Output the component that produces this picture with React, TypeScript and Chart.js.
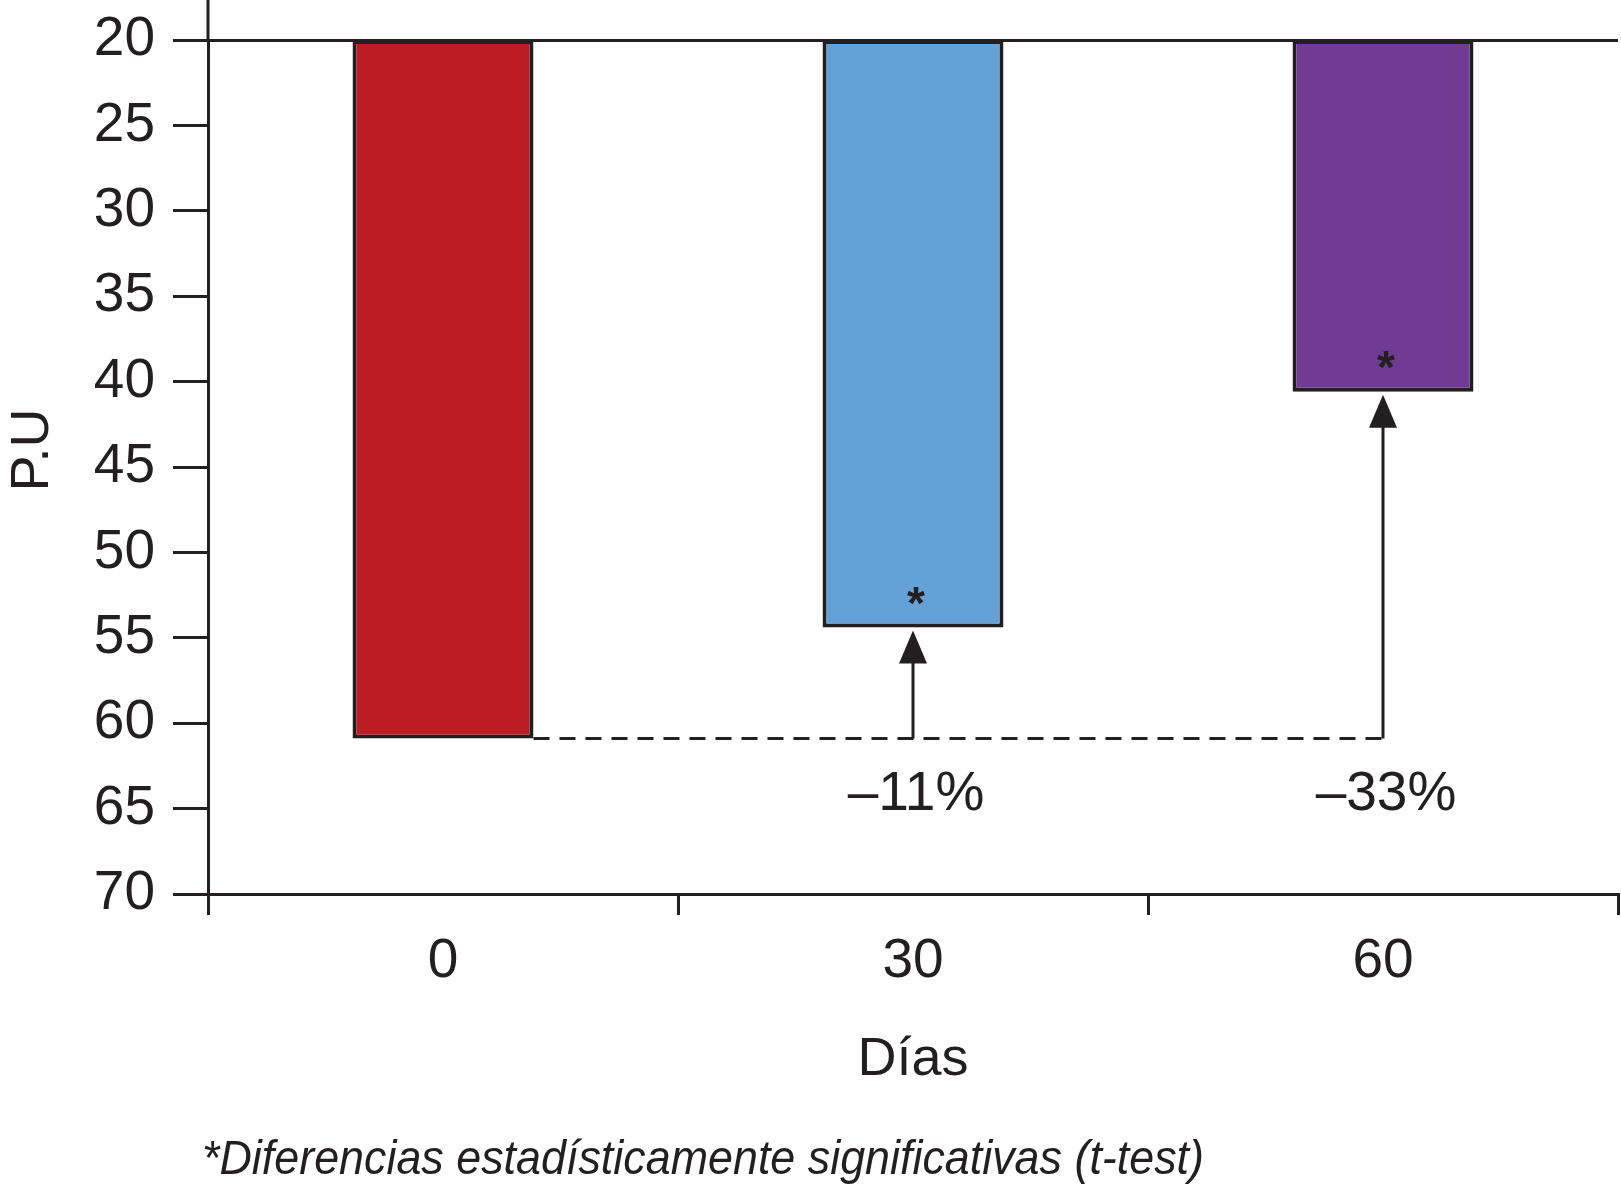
import React, { useEffect, useRef } from "react";
import { Chart, registerables } from "chart.js";

Chart.register(...registerables);

const categories = ["0", "30", "60"];
const puValues = [60.9, 54.4, 40.6];
const baseline = 20;
const barColors = ["#bc1c24", "#64a1d6", "#6f3b93"];
const changeLabels = ["", "–11%", "–33%"];
const significant = [false, true, true];
const yTicks = { min: 20, max: 70, step: 5 };
const yTitle = "P.U";
const xTitle = "Días";
const footnote = "*Diferencias estadísticamente significativas (t-test)";

const INK = "#231f20";
const FONT = "'Liberation Sans', Arial, sans-serif";

const annotationPlugin = {
  id: "annotations",
  afterDraw(chart: any) {
    const ctx = chart.ctx as CanvasRenderingContext2D;
    const area = chart.chartArea;
    const meta = chart.getDatasetMeta(0);
    const bars = meta.data as any[];
    ctx.save();
    ctx.strokeStyle = INK;
    ctx.fillStyle = INK;

    // y axis extension above top
    ctx.lineWidth = 3;
    ctx.beginPath();
    ctx.moveTo(area.left, 0);
    ctx.lineTo(area.left, area.top);
    ctx.stroke();

    const ref = bars[0];
    const refY = ref.y;
    const lastArrowX = bars[bars.length - 1].x;

    // dashed reference line
    ctx.setLineDash([16, 10]);
    ctx.beginPath();
    ctx.moveTo(ref.x + ref.width / 2, refY);
    ctx.lineTo(lastArrowX, refY);
    ctx.stroke();
    ctx.setLineDash([]);

    bars.forEach((bar: any, i: number) => {
      if (!significant[i]) return;
      const x = bar.x;
      const tip = bar.y + 3;
      // stem
      ctx.lineWidth = 3;
      ctx.beginPath();
      ctx.moveTo(x, refY);
      ctx.lineTo(x, tip + 30);
      ctx.stroke();
      // arrow head
      ctx.beginPath();
      ctx.moveTo(x, tip);
      ctx.lineTo(x - 14, tip + 33);
      ctx.lineTo(x + 14, tip + 33);
      ctx.closePath();
      ctx.fill();
      // asterisk
      ctx.font = `bold 46px ${FONT}`;
      ctx.textAlign = "center";
      ctx.textBaseline = "alphabetic";
      ctx.fillText("*", x + 3, bar.y - 9);
      // change label
      ctx.font = `55px ${FONT}`;
      ctx.textBaseline = "middle";
      ctx.fillText(changeLabels[i], x + 3, refY + 56);
    });

    // x title
    ctx.font = `54px ${FONT}`;
    ctx.textAlign = "center";
    ctx.textBaseline = "middle";
    ctx.fillText(xTitle, (area.left + area.right) / 2, 1060);

    // y title
    ctx.save();
    ctx.translate(33, 450);
    ctx.rotate(-Math.PI / 2);
    ctx.fillText(yTitle, 0, 0);
    ctx.restore();

    // footnote
    ctx.font = `italic 49px ${FONT}`;
    ctx.textAlign = "left";
    ctx.textBaseline = "alphabetic";
    const w = ctx.measureText(footnote).width;
    const sx = Math.min(1, 1002 / w);
    ctx.save();
    ctx.translate(202, 1174);
    ctx.scale(sx, 1);
    ctx.fillText(footnote, 0, 0);
    ctx.restore();

    ctx.restore();
  },
};

export default function App() {
  const canvasRef = useRef<HTMLCanvasElement>(null);

  useEffect(() => {
    document.body.style.margin = "0";
    const canvas = canvasRef.current;
    if (!canvas) return;
    const chart = new Chart(canvas, {
      type: "bar",
      data: {
        labels: categories,
        datasets: [
          {
            data: puValues.map((v) => [baseline, v]) as any,
            backgroundColor: barColors,
            borderColor: INK,
            borderWidth: 4,
            borderSkipped: false,
            barPercentage: 0.385,
            categoryPercentage: 1,
          },
        ],
      },
      options: {
        animation: false,
        responsive: false,
        devicePixelRatio: 1,
        layout: { padding: { top: 40, right: 3, left: 0, bottom: 0 } },
        plugins: {
          legend: { display: false },
          tooltip: { enabled: false },
        },
        scales: {
          x: {
            type: "category",
            offset: true,
            grid: {
              offset: true,
              drawOnChartArea: false,
              drawTicks: true,
              tickLength: 21,
              color: INK,
              lineWidth: 3,
            },
            border: { display: true, color: INK, width: 3 },
            ticks: {
              color: INK,
              font: { family: FONT, size: 55 },
              padding: 14,
            },
            afterFit: (s: any) => {
              s.height = 294;
              s.paddingLeft = 0;
              s.paddingRight = 0;
            },
          },
          y: {
            min: yTicks.min,
            max: yTicks.max,
            reverse: true,
            ticks: {
              stepSize: yTicks.step,
              color: INK,
              font: { family: FONT, size: 55 },
              padding: 18,
            },
            grid: {
              color: (c: any) => (c.tick && c.tick.value === yTicks.min ? INK : "rgba(0,0,0,0)"),
              tickColor: INK,
              tickLength: 35,
              lineWidth: 3,
              drawTicks: true,
            },
            border: { display: true, color: INK, width: 3 },
            afterFit: (s: any) => {
              s.width = 208;
              s.paddingTop = 0;
              s.paddingBottom = 0;
            },
          },
        },
      },
      plugins: [annotationPlugin],
    });
    return () => chart.destroy();
  }, []);

  return (
    <div style={{ position: "absolute", left: 0, top: 0, width: 1621, height: 1188, background: "#fff" }}>
      <canvas ref={canvasRef} width={1621} height={1188} style={{ display: "block" }} />
    </div>
  );
}
